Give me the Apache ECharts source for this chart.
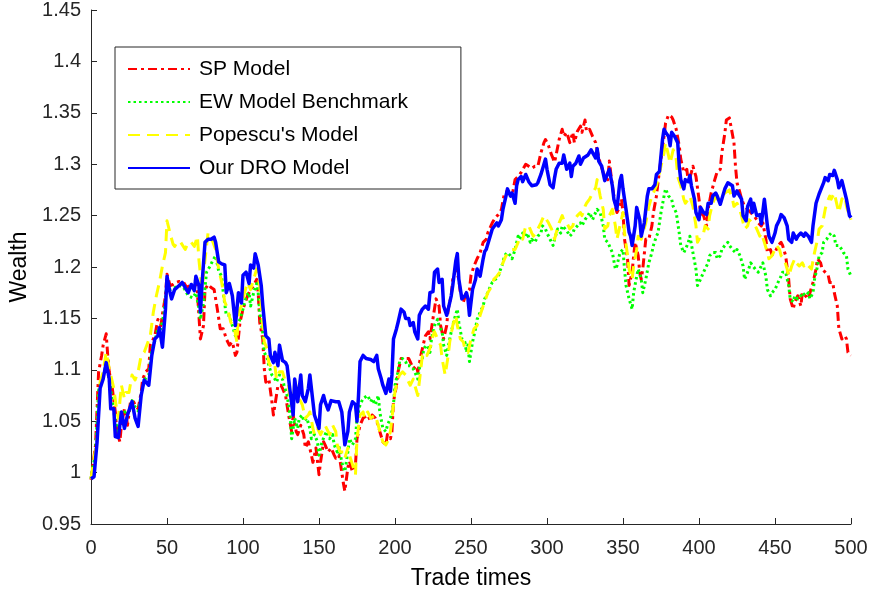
<!DOCTYPE html>
<html>
<head>
<meta charset="utf-8">
<script src="https://cdn.jsdelivr.net/npm/echarts@6/dist/echarts.min.js"></script>
<style>html,body{margin:0;padding:0;background:#fff}#c{width:871px;height:595px}</style>
</head>
<body>
<div id="c"></div>
<script>
const seriesNames = ["SP Model", "EW Model Benchmark", "Popescu's Model", "Our DRO Model"];
const xTicks = [0, 50, 100, 150, 200, 250, 300, 350, 400, 450, 500];
const yTicks = [0.95, 1, 1.05, 1.1, 1.15, 1.2, 1.25, 1.3, 1.35, 1.4, 1.45];

const spModel = [[0,0.993],[3,1.027],[5,1.098],[7,1.114],[8,1.124],[10,1.135],[11,1.114],[12,1.098],[14,1.082],[16,1.059],[17,1.04],[19,1.03],[20,1.046],[22,1.062],[23,1.059],[24,1.046],[26,1.069],[28,1.069],[29,1.066],[31,1.062],[33,1.078],[34,1.091],[36,1.098],[38,1.101],[39,1.124],[41,1.13],[42,1.133],[44,1.149],[46,1.143],[47,1.154],[49,1.172],[50,1.193],[52,1.182],[54,1.183],[56,1.185],[58,1.186],[61,1.185],[63,1.18],[65,1.182],[67,1.18],[69,1.188],[70,1.175],[72,1.13],[74,1.143],[75,1.178],[77,1.183],[79,1.18],[81,1.178],[83,1.16],[85,1.14],[87,1.14],[89,1.13],[91,1.124],[93,1.127],[95,1.114],[96,1.117],[98,1.146],[100,1.159],[103,1.172],[105,1.178],[107,1.182],[109,1.188],[110,1.175],[111,1.146],[113,1.13],[114,1.101],[115,1.088],[117,1.091],[119,1.069],[120,1.056],[122,1.075],[123,1.085],[125,1.085],[126,1.082],[128,1.075],[130,1.056],[132,1.04],[133,1.056],[135,1.04],[136,1.037],[138,1.046],[140,1.037],[141,1.024],[143,1.03],[145,1.017],[146,1.01],[148,1.024],[150,0.998],[151,1.01],[153,1.03],[154,1.027],[156,1.02],[158,1.024],[160,1.017],[161,1.014],[163,1.017],[164,1.01],[166,0.99],[167,0.982],[169,1.005],[170,1.011],[172,1.001],[174,1.008],[175,1.033],[177,1.046],[179,1.053],[180,1.053],[182,1.056],[184,1.05],[185,1.056],[187,1.053],[189,1.046],[190,1.04],[192,1.03],[194,1.027],[195,1.037],[197,1.033],[198,1.04],[199,1.069],[201,1.085],[202,1.098],[204,1.111],[206,1.111],[207,1.111],[209,1.111],[210,1.108],[212,1.101],[214,1.104],[215,1.098],[217,1.114],[219,1.127],[220,1.133],[222,1.137],[223,1.13],[225,1.15],[227,1.169],[229,1.162],[230,1.143],[232,1.13],[234,1.143],[235,1.159],[237,1.172],[238,1.188],[240,1.198],[242,1.188],[243,1.175],[245,1.166],[247,1.175],[249,1.178],[250,1.192],[252,1.201],[254,1.208],[256,1.214],[258,1.224],[260,1.227],[261,1.233],[264,1.243],[266,1.248],[268,1.251],[270,1.256],[272,1.272],[274,1.274],[275,1.272],[277,1.269],[279,1.285],[281,1.288],[283,1.292],[286,1.3],[288,1.298],[290,1.296],[292,1.298],[294,1.298],[296,1.311],[298,1.321],[299,1.324],[301,1.318],[303,1.309],[305,1.302],[306,1.309],[308,1.324],[310,1.334],[311,1.327],[313,1.331],[315,1.321],[317,1.331],[318,1.321],[320,1.332],[322,1.337],[323,1.331],[325,1.343],[326,1.332],[328,1.334],[330,1.327],[332,1.321],[333,1.314],[335,1.301],[337,1.292],[338,1.288],[340,1.285],[341,1.303],[343,1.279],[345,1.259],[346,1.253],[348,1.259],[349,1.266],[350,1.253],[351,1.227],[353,1.208],[354,1.182],[356,1.195],[357,1.211],[358,1.224],[360,1.211],[361,1.195],[362,1.188],[363,1.198],[365,1.227],[367,1.227],[369,1.24],[370,1.253],[372,1.269],[373,1.282],[375,1.305],[377,1.327],[378,1.34],[380,1.348],[382,1.346],[383,1.343],[385,1.334],[387,1.318],[388,1.305],[390,1.292],[392,1.295],[393,1.282],[395,1.292],[396,1.298],[398,1.288],[400,1.266],[401,1.253],[403,1.25],[405,1.24],[406,1.256],[408,1.272],[410,1.283],[411,1.288],[412,1.293],[414,1.295],[415,1.311],[417,1.33],[418,1.343],[420,1.345],[421,1.337],[423,1.321],[424,1.298],[425,1.282],[427,1.272],[428,1.266],[430,1.259],[432,1.256],[433,1.256],[434,1.253],[436,1.25],[438,1.246],[439,1.243],[441,1.24],[442,1.243],[444,1.227],[445,1.214],[447,1.217],[448,1.212],[450,1.214],[452,1.221],[454,1.224],[455,1.221],[457,1.211],[459,1.188],[460,1.169],[462,1.159],[463,1.166],[465,1.172],[467,1.162],[468,1.175],[470,1.172],[472,1.169],[473,1.175],[475,1.185],[477,1.198],[478,1.208],[480,1.204],[481,1.198],[483,1.195],[485,1.192],[486,1.185],[488,1.185],[489,1.175],[491,1.162],[492,1.14],[494,1.13],[496,1.133],[497,1.13],[498,1.117],[500,1.114]];

const ewModel = [[0,0.994],[3,1.02],[5,1.08],[8,1.095],[10,1.105],[12,1.09],[14,1.07],[16,1.05],[18,1.04],[20,1.055],[23,1.06],[25,1.06],[27,1.07],[29,1.064],[31,1.06],[33,1.075],[35,1.09],[38,1.095],[40,1.12],[42,1.128],[44,1.14],[46,1.14],[48,1.155],[50,1.185],[52,1.178],[55,1.18],[58,1.182],[61,1.18],[64,1.172],[67,1.17],[69,1.175],[71,1.16],[72,1.149],[74,1.165],[76,1.195],[78,1.2],[80,1.206],[82,1.211],[84,1.196],[86,1.191],[87,1.175],[89,1.153],[91,1.153],[93,1.143],[95,1.133],[96,1.143],[98,1.149],[100,1.159],[102,1.172],[104,1.175],[105,1.162],[107,1.175],[109,1.184],[110,1.175],[111,1.156],[113,1.136],[114,1.117],[116,1.111],[117,1.104],[119,1.095],[121,1.091],[122,1.088],[124,1.095],[126,1.091],[127,1.085],[129,1.075],[131,1.056],[132,1.033],[134,1.053],[136,1.043],[137,1.053],[139,1.056],[140,1.05],[142,1.053],[144,1.043],[145,1.033],[147,1.037],[149,1.03],[150,1.017],[152,1.03],[154,1.037],[155,1.04],[157,1.033],[159,1.037],[160,1.027],[162,1.02],[163,1.027],[165,1.01],[166,1.005],[167,1.001],[169,1.02],[170,1.033],[172,1.027],[174,1.033],[175,1.053],[177,1.066],[179,1.072],[180,1.072],[182,1.075],[184,1.069],[185,1.072],[187,1.066],[189,1.075],[190,1.059],[192,1.043],[194,1.04],[195,1.046],[197,1.053],[199,1.066],[200,1.085],[202,1.098],[203,1.108],[205,1.111],[207,1.108],[208,1.104],[210,1.104],[212,1.101],[213,1.098],[215,1.091],[216,1.101],[218,1.111],[219,1.121],[221,1.124],[223,1.117],[224,1.13],[226,1.143],[228,1.149],[229,1.143],[231,1.137],[232,1.124],[234,1.114],[236,1.13],[237,1.137],[239,1.149],[241,1.159],[242,1.146],[244,1.13],[246,1.127],[247,1.117],[248,1.124],[249,1.108],[251,1.127],[253,1.14],[254,1.149],[256,1.156],[258,1.162],[259,1.169],[261,1.175],[263,1.182],[264,1.185],[266,1.188],[268,1.191],[269,1.196],[271,1.204],[272,1.211],[274,1.214],[276,1.211],[277,1.208],[279,1.217],[281,1.23],[282,1.227],[284,1.233],[286,1.23],[287,1.233],[289,1.224],[290,1.227],[292,1.224],[294,1.23],[296,1.233],[297,1.24],[299,1.237],[300,1.233],[302,1.227],[304,1.221],[305,1.227],[307,1.237],[309,1.233],[310,1.24],[312,1.237],[314,1.233],[315,1.23],[317,1.233],[318,1.237],[320,1.24],[322,1.243],[323,1.24],[325,1.246],[327,1.25],[328,1.253],[330,1.246],[331,1.25],[333,1.256],[335,1.253],[337,1.24],[338,1.227],[340,1.224],[341,1.224],[343,1.214],[345,1.198],[346,1.201],[348,1.214],[350,1.217],[351,1.198],[352,1.182],[354,1.169],[356,1.159],[357,1.175],[359,1.191],[360,1.198],[362,1.188],[363,1.175],[365,1.188],[367,1.204],[369,1.214],[370,1.221],[372,1.23],[373,1.233],[375,1.253],[377,1.269],[378,1.276],[380,1.269],[382,1.266],[383,1.259],[385,1.253],[387,1.233],[388,1.221],[390,1.214],[391,1.217],[393,1.224],[394,1.23],[396,1.214],[398,1.198],[399,1.182],[401,1.188],[403,1.195],[404,1.198],[406,1.204],[407,1.211],[409,1.214],[411,1.214],[412,1.208],[414,1.211],[415,1.217],[417,1.221],[419,1.224],[420,1.221],[422,1.217],[424,1.214],[425,1.217],[427,1.211],[429,1.201],[430,1.188],[432,1.195],[434,1.204],[435,1.204],[437,1.198],[439,1.195],[440,1.198],[442,1.204],[444,1.191],[445,1.178],[447,1.172],[448,1.175],[450,1.178],[452,1.185],[454,1.191],[455,1.195],[457,1.195],[459,1.182],[460,1.169],[462,1.166],[463,1.172],[465,1.169],[467,1.172],[468,1.175],[470,1.172],[472,1.175],[473,1.169],[475,1.175],[476,1.188],[478,1.201],[479,1.211],[481,1.214],[482,1.224],[484,1.227],[485,1.23],[487,1.233],[489,1.23],[490,1.221],[492,1.221],[494,1.217],[495,1.214],[497,1.211],[498,1.198],[500,1.191]];

const popescuModel = [[0,0.994],[4,1.033],[6,1.088],[8,1.098],[10,1.117],[12,1.101],[15,1.082],[17,1.059],[18,1.053],[20,1.085],[22,1.072],[23,1.078],[25,1.078],[27,1.095],[29,1.09],[31,1.098],[33,1.114],[35,1.117],[36,1.117],[39,1.133],[41,1.156],[43,1.172],[45,1.185],[47,1.201],[49,1.214],[50,1.245],[52,1.233],[54,1.222],[55,1.22],[57,1.225],[59,1.224],[62,1.217],[64,1.224],[66,1.224],[68,1.22],[70,1.23],[71,1.207],[73,1.178],[75,1.207],[77,1.233],[79,1.227],[80,1.225],[82,1.217],[84,1.198],[86,1.185],[88,1.166],[90,1.159],[92,1.146],[94,1.143],[96,1.127],[97,1.156],[99,1.162],[101,1.175],[103,1.185],[105,1.178],[107,1.188],[109,1.198],[111,1.182],[113,1.143],[114,1.127],[116,1.12],[117,1.107],[119,1.101],[121,1.104],[122,1.091],[124,1.098],[126,1.098],[128,1.088],[130,1.085],[131,1.069],[133,1.062],[134,1.091],[136,1.075],[138,1.069],[139,1.066],[141,1.053],[143,1.056],[144,1.059],[146,1.043],[147,1.037],[149,1.043],[151,1.037],[152,1.04],[154,1.046],[156,1.04],[157,1.037],[159,1.046],[161,1.04],[162,1.027],[164,1.02],[166,1.02],[167,1.014],[169,1.024],[170,1.017],[172,1.008],[174,0.998],[175,1.033],[177,1.056],[179,1.059],[180,1.053],[182,1.059],[184,1.053],[185,1.053],[187,1.056],[189,1.046],[190,1.04],[192,1.03],[194,1.027],[195,1.03],[197,1.04],[199,1.066],[200,1.079],[202,1.091],[203,1.095],[205,1.098],[207,1.095],[208,1.091],[210,1.085],[212,1.091],[213,1.085],[215,1.075],[217,1.101],[218,1.114],[220,1.117],[221,1.114],[223,1.121],[225,1.133],[226,1.137],[228,1.13],[230,1.124],[231,1.111],[233,1.095],[235,1.114],[236,1.127],[238,1.143],[240,1.153],[241,1.143],[243,1.13],[245,1.127],[246,1.12],[248,1.117],[250,1.13],[252,1.14],[254,1.143],[256,1.153],[258,1.162],[259,1.166],[261,1.175],[264,1.182],[265,1.188],[267,1.191],[269,1.195],[271,1.204],[273,1.211],[275,1.214],[277,1.217],[279,1.217],[281,1.224],[282,1.229],[284,1.227],[286,1.24],[288,1.24],[290,1.233],[291,1.23],[293,1.233],[294,1.237],[296,1.243],[298,1.25],[299,1.25],[301,1.243],[303,1.237],[305,1.227],[306,1.233],[308,1.243],[310,1.25],[311,1.246],[313,1.243],[315,1.237],[317,1.24],[318,1.246],[320,1.25],[322,1.253],[323,1.25],[325,1.259],[326,1.262],[328,1.266],[330,1.272],[332,1.277],[333,1.285],[335,1.269],[337,1.256],[338,1.237],[340,1.24],[341,1.25],[343,1.256],[345,1.24],[346,1.227],[348,1.24],[350,1.253],[351,1.233],[353,1.211],[354,1.198],[356,1.188],[357,1.201],[359,1.217],[360,1.23],[362,1.227],[363,1.227],[365,1.243],[367,1.259],[369,1.269],[370,1.272],[372,1.279],[373,1.285],[375,1.298],[377,1.311],[378,1.321],[380,1.308],[381,1.301],[383,1.314],[385,1.305],[386,1.288],[388,1.279],[390,1.266],[391,1.262],[393,1.266],[394,1.269],[396,1.259],[398,1.24],[399,1.224],[401,1.23],[403,1.233],[404,1.24],[406,1.237],[407,1.25],[409,1.262],[411,1.269],[412,1.266],[414,1.266],[415,1.266],[417,1.272],[420,1.275],[422,1.266],[423,1.259],[425,1.262],[426,1.259],[428,1.25],[430,1.237],[432,1.24],[433,1.246],[435,1.243],[437,1.24],[438,1.237],[440,1.23],[441,1.233],[443,1.224],[445,1.214],[446,1.208],[448,1.211],[450,1.217],[451,1.221],[453,1.217],[454,1.211],[456,1.208],[458,1.198],[459,1.191],[461,1.201],[463,1.208],[464,1.204],[466,1.201],[468,1.204],[469,1.201],[471,1.204],[472,1.201],[474,1.198],[476,1.214],[478,1.227],[479,1.237],[481,1.24],[483,1.256],[484,1.262],[486,1.269],[487,1.266],[489,1.272],[491,1.259],[492,1.253],[494,1.266],[496,1.269],[497,1.259],[499,1.25],[500,1.246]];

const droModel = [[0,0.994],[2,0.996],[4,1.03],[6,1.082],[8,1.091],[10,1.107],[12,1.091],[13,1.062],[15,1.062],[16,1.035],[18,1.034],[20,1.059],[22,1.043],[24,1.056],[27,1.069],[29,1.053],[31,1.045],[33,1.075],[35,1.09],[38,1.085],[40,1.114],[42,1.13],[44,1.133],[45,1.141],[47,1.122],[49,1.159],[50,1.191],[52,1.175],[53,1.169],[55,1.178],[58,1.182],[60,1.185],[62,1.18],[64,1.175],[66,1.183],[68,1.177],[69,1.191],[71,1.182],[72,1.156],[73,1.182],[75,1.224],[77,1.227],[79,1.227],[81,1.229],[82,1.224],[84,1.205],[86,1.203],[88,1.202],[89,1.175],[91,1.184],[93,1.172],[95,1.143],[97,1.175],[99,1.165],[100,1.192],[102,1.195],[104,1.184],[105,1.202],[107,1.199],[108,1.213],[110,1.202],[112,1.182],[113,1.163],[115,1.133],[117,1.13],[118,1.114],[120,1.107],[121,1.117],[123,1.104],[124,1.124],[126,1.109],[128,1.107],[129,1.104],[131,1.079],[133,1.056],[134,1.091],[136,1.069],[138,1.095],[139,1.075],[141,1.069],[143,1.082],[144,1.095],[146,1.069],[147,1.056],[150,1.043],[151,1.066],[153,1.075],[154,1.069],[156,1.061],[158,1.07],[161,1.069],[163,1.069],[165,1.059],[166,1.043],[167,1.027],[169,1.04],[170,1.059],[172,1.069],[174,1.066],[175,1.05],[176,1.075],[177,1.108],[179,1.114],[181,1.111],[184,1.11],[186,1.108],[188,1.114],[189,1.101],[191,1.091],[192,1.085],[194,1.077],[196,1.091],[197,1.079],[198,1.095],[199,1.13],[201,1.14],[202,1.146],[204,1.159],[206,1.156],[207,1.15],[209,1.15],[210,1.143],[212,1.146],[213,1.137],[215,1.13],[216,1.153],[218,1.159],[219,1.159],[220,1.162],[222,1.159],[223,1.175],[225,1.176],[226,1.195],[228,1.198],[229,1.185],[231,1.188],[232,1.162],[234,1.153],[235,1.159],[237,1.172],[238,1.182],[240,1.206],[241,1.213],[242,1.188],[244,1.169],[246,1.172],[247,1.175],[248,1.169],[249,1.153],[251,1.178],[253,1.188],[254,1.198],[256,1.191],[258,1.208],[259,1.215],[260,1.217],[262,1.227],[264,1.237],[265,1.238],[267,1.243],[268,1.24],[270,1.246],[271,1.256],[273,1.269],[274,1.276],[276,1.269],[277,1.272],[279,1.262],[280,1.279],[281,1.285],[283,1.288],[284,1.283],[286,1.29],[288,1.283],[290,1.279],[291,1.28],[293,1.28],[294,1.282],[296,1.29],[298,1.3],[299,1.305],[300,1.295],[302,1.28],[304,1.277],[305,1.287],[306,1.295],[308,1.301],[310,1.301],[311,1.309],[313,1.295],[315,1.301],[316,1.288],[317,1.298],[319,1.301],[321,1.308],[322,1.3],[324,1.306],[325,1.306],[327,1.309],[329,1.314],[330,1.314],[332,1.306],[333,1.315],[334,1.303],[336,1.298],[338,1.284],[339,1.285],[341,1.295],[343,1.279],[344,1.266],[346,1.256],[348,1.284],[349,1.289],[350,1.276],[352,1.256],[354,1.234],[355,1.23],[356,1.221],[358,1.24],[359,1.258],[361,1.246],[362,1.23],[364,1.243],[366,1.269],[367,1.276],[369,1.276],[371,1.28],[372,1.29],[374,1.293],[376,1.324],[377,1.334],[378,1.331],[380,1.327],[381,1.318],[382,1.331],[384,1.327],[386,1.321],[387,1.298],[388,1.285],[390,1.276],[391,1.285],[393,1.283],[394,1.289],[395,1.279],[397,1.266],[398,1.253],[400,1.246],[401,1.258],[403,1.253],[405,1.251],[406,1.262],[408,1.262],[409,1.269],[411,1.272],[412,1.269],[414,1.261],[415,1.262],[417,1.276],[419,1.282],[420,1.281],[422,1.279],[423,1.269],[425,1.274],[426,1.271],[428,1.266],[429,1.25],[431,1.245],[432,1.259],[434,1.266],[435,1.253],[436,1.262],[438,1.25],[440,1.251],[441,1.242],[443,1.266],[445,1.24],[446,1.23],[448,1.224],[450,1.233],[451,1.24],[453,1.246],[454,1.251],[456,1.248],[458,1.24],[459,1.227],[461,1.224],[462,1.233],[464,1.227],[465,1.23],[467,1.233],[469,1.23],[470,1.233],[472,1.23],[474,1.224],[475,1.24],[477,1.262],[479,1.271],[480,1.272],[482,1.282],[483,1.287],[485,1.284],[486,1.29],[488,1.289],[489,1.294],[491,1.285],[492,1.277],[494,1.284],[496,1.272],[497,1.266],[499,1.25],[500,1.248]];

const chart = echarts.init(document.getElementById('c'), null, {renderer: 'canvas'});
const FONT = 'Liberation Sans, Arial, sans-serif';
const AX = '#262626';

function mkSeries(name, data, color, type, width) {
  return {
    name: name, type: 'line', data: data, showSymbol: false, symbol: 'none',
    animation: false, z: 2,
    lineStyle: {color: color, width: width, type: type, cap: 'butt', join: 'round'},
    itemStyle: {color: color}
  };
}

chart.setOption({
  animation: false,
  backgroundColor: '#fff',
  grid: {left: 91, right: 20, top: 10, bottom: 69, containLabel: false},
  legend: {
    left: 115, top: 47, orient: 'vertical',
    data: seriesNames,
    itemWidth: 62, itemHeight: 14, itemGap: 11,
    padding: [11, 53, 10, 12],
    borderColor: '#262626', borderWidth: 1, backgroundColor: '#fff',
    itemStyle: {opacity: 0},
    textStyle: {fontFamily: FONT, fontSize: 21, color: '#000', padding: [0, 0, 0, 4], lineHeight: 22},
    selectedMode: false
  },
  xAxis: {
    type: 'value', min: 0, max: 500, interval: 50,
    name: 'Trade times', nameLocation: 'middle', nameGap: 43,
    nameTextStyle: {fontFamily: FONT, fontSize: 23, color: '#000'},
    axisLine: {show: true, onZero: false, lineStyle: {color: AX, width: 1}},
    axisTick: {show: true, inside: true, length: 6, lineStyle: {color: AX}},
    axisLabel: {fontFamily: FONT, fontSize: 20, color: AX, margin: 14,
      formatter: v => xTicks.includes(v) ? String(v) : ''},
    splitLine: {show: false}
  },
  yAxis: {
    type: 'value', min: 0.95, max: 1.45, interval: 0.05,
    name: 'Wealth', nameLocation: 'middle', nameGap: 58, nameRotate: 90,
    nameTextStyle: {fontFamily: FONT, fontSize: 23, color: '#000'},
    axisLine: {show: true, onZero: false, lineStyle: {color: AX, width: 1}},
    axisTick: {show: true, inside: true, length: 6, lineStyle: {color: AX}},
    axisLabel: {fontFamily: FONT, fontSize: 20, color: AX, margin: 10,
      formatter: v => {
        const r = Math.round(v * 100) / 100;
        return yTicks.some(t => Math.abs(t - r) < 1e-9) ? String(r) : '';
      }},
    splitLine: {show: false}
  },
  series: [
    mkSeries(seriesNames[0], spModel, '#FF0000', [9, 4, 3, 4], 3),
    mkSeries(seriesNames[1], ewModel, '#00FF00', [2.5, 3], 3),
    mkSeries(seriesNames[2], popescuModel, '#FFFF00', [12, 7], 3),
    mkSeries(seriesNames[3], droModel, '#0000FF', 'solid', 3.5)
  ]
});
</script>
</body>
</html>
